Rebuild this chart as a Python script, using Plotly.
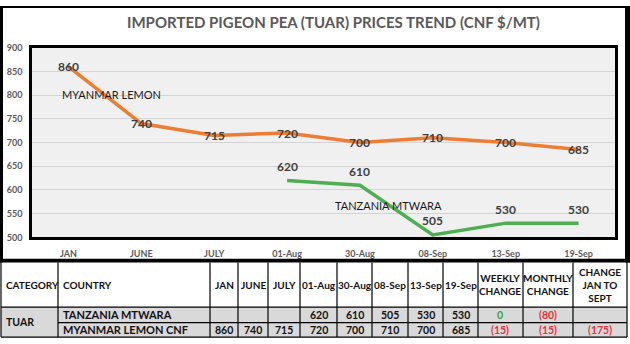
import plotly.graph_objects as go

W, H = 630, 344

# ---- data ----
periods = ["JAN", "JUNE", "JULY", "01-Aug", "30-Aug", "08-Sep", "13-Sep", "19-Sep"]
myanmar_lemon = [860, 740, 715, 720, 700, 710, 700, 685]
tanzania_mtwara = [None, None, None, 620, 610, 505, 530, 530]

countries = ["TANZANIA MTWARA", "MYANMAR LEMON CNF"]
weekly_change = [0, -15]
monthly_change = [-80, -15]
jan_to_sept_change = [None, -175]
category = "TUAR"

title = "IMPORTED PIGEON PEA (TUAR) PRICES TREND (CNF $/MT)"

FONT = "Lato"
ORANGE = "#ED7D31"
GREEN = "#4CAF50"
LABEL = "#404040"
AXIS_TXT = "#595959"


def px_x(x):
    return x / W


def px_y(y):
    return 1 - y / H


# plot area in pixels
PL, PR, PT, PB = 32, 615, 43, 239

fig = go.Figure()

fig.add_trace(go.Scatter(x=periods, y=myanmar_lemon, mode="lines",
                         line=dict(color=ORANGE, width=3.5), hoverinfo="skip"))
fig.add_trace(go.Scatter(x=periods, y=tanzania_mtwara, mode="lines",
                         line=dict(color=GREEN, width=3.5), hoverinfo="skip"))

annotations = []
# value labels: centred on the orange line, above the green line
for p, v in zip(periods, myanmar_lemon):
    annotations.append(dict(x=p, y=v, xref="x", yref="y", text=str(v), showarrow=False,
                            font=dict(family=FONT, size=12, color=LABEL, weight="bold")))
for p, v in zip(periods, tanzania_mtwara):
    if v is None:
        continue
    annotations.append(dict(x=p, y=v, xref="x", yref="y", text=str(v), showarrow=False,
                            yshift=14,
                            font=dict(family=FONT, size=12, color=LABEL, weight="bold")))

# series names
annotations.append(dict(x=px_x(60), y=px_y(91), xref="paper", yref="paper",
                        text="MYANMAR LEMON", showarrow=False, xanchor="left", yanchor="middle",
                        font=dict(family=FONT, size=11, color="#1a1a1a")))
annotations.append(dict(x=px_x(333), y=px_y(206), xref="paper", yref="paper",
                        text="TANZANIA MTWARA", showarrow=False, xanchor="left", yanchor="middle",
                        font=dict(family=FONT, size=11, color="#1a1a1a")))

# title
annotations.append(dict(x=px_x(333), y=px_y(17), xref="paper", yref="paper",
                        text=title, showarrow=False, xanchor="center", yanchor="middle",
                        font=dict(family=FONT, size=15, color=AXIS_TXT, weight="bold")))

shapes = []
# black frame around the chart
for x0, y0, x1, y1 in [(0, 0, 630, 2), (0, 0, 3, 265), (625, 0, 630, 265), (0, 261, 630, 265)]:
    shapes.append(dict(type="rect", xref="paper", yref="paper",
                       x0=px_x(x0), x1=px_x(x1), y0=px_y(y1), y1=px_y(y0),
                       fillcolor="black", line=dict(width=0), layer="above"))

# ---- table below the chart ----
col_edges = [1, 58, 210, 238, 268, 300, 337, 372, 408, 443, 478, 523, 573, 627]
T_TOP, T_HEAD, T_ROW1, T_BOT = 265, 311, 327, 342
TXT = "#111111"
RED = "#E8323C"
GRN = "#3BA53B"

# grey body
shapes.append(dict(type="rect", xref="paper", yref="paper",
                   x0=px_x(col_edges[0]), x1=px_x(col_edges[-1]),
                   y0=px_y(T_BOT), y1=px_y(T_HEAD),
                   fillcolor="#D9D9D9", line=dict(width=0), layer="below"))


def hline(y, xa, xb, w=1):
    shapes.append(dict(type="line", xref="paper", yref="paper",
                       x0=px_x(xa), x1=px_x(xb), y0=px_y(y), y1=px_y(y),
                       line=dict(color="black", width=w)))


def vline(x, ya, yb, w=1):
    shapes.append(dict(type="line", xref="paper", yref="paper",
                       x0=px_x(x), x1=px_x(x), y0=px_y(ya), y1=px_y(yb),
                       line=dict(color="black", width=w)))


for x in col_edges:
    vline(x, T_TOP, T_BOT, 1.2)
hline(T_HEAD, col_edges[0], col_edges[-1], 1.2)
hline(T_ROW1, col_edges[1], col_edges[-1], 1.2)
hline(T_BOT, col_edges[0], col_edges[-1], 1.2)


def cell_text(text, ci, yc, align="center", color=TXT, size=10):
    xa, xb = col_edges[ci], col_edges[ci + 1]
    if align == "left":
        x, anchor = xa + 3, "left"
    else:
        x, anchor = (xa + xb) / 2, "center"
    annotations.append(dict(x=px_x(x), y=px_y(yc), xref="paper", yref="paper",
                            text=text, showarrow=False, xanchor=anchor, yanchor="middle",
                            font=dict(family=FONT, size=size, color=color, weight="bold")))


def fmt_change(v):
    if v is None:
        return ""
    return str(v) if v >= 0 else f"({abs(v)})"


head_y = (T_TOP + T_HEAD) / 2
headers = ["CATEGORY", "COUNTRY"] + periods + ["WEEKLY<br>CHANGE", "MONTHLY<br>CHANGE",
                                               "CHANGE<br>JAN TO<br>SEPT"]
for ci, h in enumerate(headers):
    cell_text(h, ci, head_y, align="left" if ci < 2 else "center")

row_y = [(T_HEAD + T_ROW1) / 2, (T_ROW1 + T_BOT) / 2]
series_rows = [tanzania_mtwara, myanmar_lemon]
cell_text(category, 0, (T_HEAD + T_BOT) / 2, align="left", size=10.5)
for ri in range(2):
    cell_text(countries[ri], 1, row_y[ri], align="left", size=11)
    for pi, v in enumerate(series_rows[ri]):
        cell_text("" if v is None else str(v), 2 + pi, row_y[ri], size=10.5)
    for k, ch in enumerate([weekly_change[ri], monthly_change[ri], jan_to_sept_change[ri]]):
        if ch is None:
            continue
        cell_text(fmt_change(ch), 10 + k, row_y[ri], color=GRN if ch >= 0 else RED, size=10.5)

fig.update_layout(
    width=W, height=H,
    margin=dict(l=0, r=0, t=0, b=0),
    paper_bgcolor="white",
    plot_bgcolor="#F0F0F0",
    showlegend=False,
    font=dict(family=FONT),
    annotations=annotations,
    shapes=shapes,
    xaxis=dict(
        type="category", range=[-0.5, len(periods) - 0.5],
        domain=[px_x(PL), px_x(PR)],
        showgrid=False, zeroline=False,
        showline=True, mirror=True, linecolor="black", linewidth=2.5,
        tickfont=dict(family=FONT, size=9, color=AXIS_TXT, weight="bold"),
        ticks="", ticklabelstandoff=6,
    ),
    yaxis=dict(
        range=[500, 900], dtick=50,
        domain=[px_y(PB), px_y(PT)],
        showgrid=True, gridcolor="#D4D4D4", gridwidth=1, zeroline=False,
        showline=True, mirror=True, linecolor="black", linewidth=2.5,
        tickfont=dict(family=FONT, size=9, color=AXIS_TXT, weight="bold"),
        ticks="", ticklabelstandoff=5,
    ),
)

fig.write_html("out.html")
